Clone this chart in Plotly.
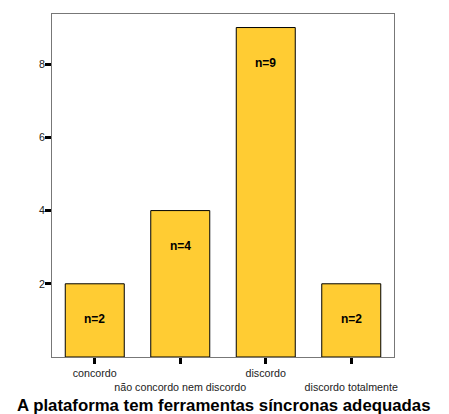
import plotly.graph_objects as go

categories = ["concordo", "não concordo nem discordo", "discordo", "discordo totalmente"]
counts = [2, 4, 9, 2]
bar_labels = ["n=2", "n=4", "n=9", "n=2"]
tick_text = ["concordo", "<br>não concordo nem discordo", "discordo", "<br>discordo totalmente"]
y_ticks = [2, 4, 6, 8]
x_title = "A plataforma tem ferramentas síncronas adequadas"

fig = go.Figure()
fig.add_trace(go.Bar(
    x=categories, y=counts,
    marker=dict(color="#FFCC33", line=dict(color="#000000", width=1)),
    width=0.69,
    hoverinfo="skip",
))

for c, v, t in zip(categories, counts, bar_labels):
    fig.add_annotation(x=c, y=v, text="<b>" + t + "</b>", showarrow=False,
                       yshift=-35, font=dict(family="Liberation Sans, Arial", size=12, color="#000"))

fig.add_annotation(x=0.5, y=-0.14, xref="paper", yref="paper", yanchor="middle",
                   text="<b>" + x_title + "</b>", showarrow=False,
                   font=dict(family="Liberation Sans, Arial", size=16.8, color="#000"))

fig.update_layout(
    width=441, height=406,
    margin=dict(l=44, r=55, t=6, b=57),
    paper_bgcolor="white", plot_bgcolor="white",
    showlegend=False,
    font=dict(family="Liberation Sans, Arial", size=10.7, color="#000"),
    xaxis=dict(range=[-0.5, 3.5], tickmode="array", tickvals=categories, ticktext=tick_text,
               ticks="outside", ticklen=6, tickwidth=3, tickcolor="#000", tickangle=0,
               automargin=False,
               showline=True, linecolor="#777", linewidth=1, mirror=True,
               showgrid=False, tickfont=dict(size=10.7, color="#222")),
    yaxis=dict(range=[0, 9.37], tickmode="array", tickvals=y_ticks,
               ticks="outside", ticklen=6, tickwidth=3, tickcolor="#000",
               automargin=False, ticklabelstandoff=-2,
               showline=True, linecolor="#777", linewidth=1, mirror=True,
               showgrid=False, zeroline=False, tickfont=dict(size=10.7, color="#222")),
)

fig.write_html("out.html")
